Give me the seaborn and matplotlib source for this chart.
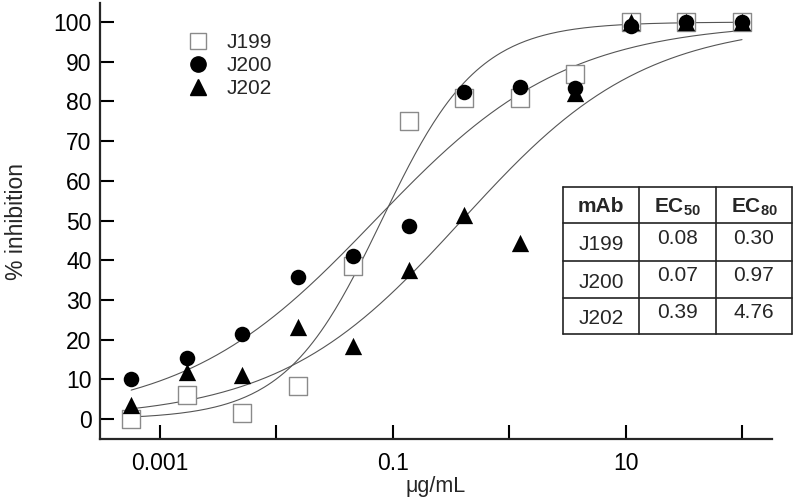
import numpy as np
import pandas as pd
import matplotlib
matplotlib.use("Agg")
import matplotlib.pyplot as plt
from matplotlib.lines import Line2D
import seaborn as sns

# ---------------- data ----------------
conc = [0.000565, 0.00169, 0.00508, 0.0152, 0.0457, 0.137, 0.412, 1.23, 3.70, 11.1, 33.3, 100]
j199 = [0, 6, 1.5, 8.3, 38.5, 75, 81, 81, 87, 100, 100, 100]
j200 = [10, 15.4, 21.4, 35.7, 41.1, 48.7, 82.4, 83.6, 83.5, 98.9, 100, 100]
j202 = [3.6, 11.8, 11.0, 23.2, 18.5, 37.6, 51.5, 44.3, 82.1, 100, 100, 100]
series_names = ["J199", "J200", "J202"]

# fitted logistic parameters (EC50 from table, Hill slope from EC50/EC80)
ec50 = [0.08, 0.07, 0.39]
ec80 = [0.30, 0.97, 4.76]
hill = [1.05, 0.527, 0.554]

table_header = ["mAb", r"$\mathbf{EC_{50}}$", r"$\mathbf{EC_{80}}$"]
table_rows = [["J199", "0.08", "0.30"], ["J200", "0.07", "0.97"], ["J202", "0.39", "4.76"]]

xticks = [0.001, 0.01, 0.1, 1, 10, 100]
xticklabels = ["0.001", "", "0.1", "", "10", ""]
yticks = list(range(0, 101, 10))

# ---------------- style ----------------
sns.set_style("ticks")
plt.rcParams["font.family"] = ["Liberation Sans", "DejaVu Sans"]
plt.rcParams["mathtext.fontset"] = "custom"
plt.rcParams["mathtext.rm"] = "Liberation Sans"
plt.rcParams["mathtext.bf"] = "Liberation Sans:bold"

W, H = 793, 500
fig = plt.figure(figsize=(W / 100, H / 100), dpi=100)
ax = fig.add_axes([100 / W, 1 - 439 / H, 672 / W, 436 / H])

df = pd.DataFrame({
    "conc": conc * 3,
    "inh": j199 + j200 + j202,
    "mAb": ["J199"] * 12 + ["J200"] * 12 + ["J202"] * 12,
})

# fitted curves
xs = np.logspace(np.log10(conc[0]), np.log10(conc[-1]), 300)
curves = []
for name, e, h in zip(series_names, ec50, hill):
    curves.append(pd.DataFrame({"conc": xs, "inh": 100 / (1 + (e / xs) ** h), "mAb": name}))
cdf = pd.concat(curves)
sns.lineplot(data=cdf, x="conc", y="inh", units="mAb", estimator=None,
             color="#555555", lw=0.8, ax=ax, legend=False)

# points
sns.scatterplot(data=df[df.mAb == "J199"], x="conc", y="inh", marker="s", s=150,
                facecolor="white", edgecolor="#8a8a8a", linewidth=1.0, ax=ax, zorder=3)
sns.scatterplot(data=df[df.mAb == "J200"], x="conc", y="inh", marker="o", s=125,
                color="black", edgecolor="black", linewidth=0, ax=ax, zorder=4)
sns.scatterplot(data=df[df.mAb == "J202"], x="conc", y="inh", marker="^", s=155,
                color="black", edgecolor="black", linewidth=0, ax=ax, zorder=5)

ax.set_xscale("log")
ax.set_xlim(0.000305, 181)
ax.set_ylim(-5, 104.8)
ax.set_xticks(xticks)
ax.set_xticklabels(xticklabels)
ax.xaxis.set_minor_locator(matplotlib.ticker.NullLocator())
ax.set_yticks(yticks)
ax.tick_params(axis="both", direction="in", length=10, width=1.5, labelsize=16.5, colors="black")
ax.tick_params(axis="y", pad=6)
ax.tick_params(axis="x", pad=9)
for s in ["top", "right"]:
    ax.spines[s].set_visible(False)
for s in ["left", "bottom"]:
    ax.spines[s].set_linewidth(1.6)
ax.set_xlabel("\u03bcg/mL", fontsize=15.5, labelpad=1)
ax.set_ylabel("% inhibition", fontsize=16.5, labelpad=18)

# legend
handles = [
    Line2D([], [], marker="s", ls="none", markersize=12, markerfacecolor="white",
           markeredgecolor="#8a8a8a", markeredgewidth=1.0),
    Line2D([], [], marker="o", ls="none", markersize=11, color="black"),
    Line2D([], [], marker="^", ls="none", markersize=12, color="black"),
]
ax.legend(handles, series_names, loc="upper left", bbox_to_anchor=(0.112, 0.955),
          frameon=False, fontsize=15, handletextpad=0.75, labelspacing=0.2,
          handlelength=1.2, borderpad=0)

# table (pixel coordinates converted to figure coords)
def fx(px):
    return px / W

def fy(py):
    return 1 - py / H

col_x = [563, 639, 716, 792]
row_y = [187, 223, 261, 298, 334]
for x in col_x:
    fig.add_artist(Line2D([fx(x), fx(x)], [fy(row_y[0]), fy(row_y[-1])], color="#222222", lw=1.2))
for y in row_y:
    fig.add_artist(Line2D([fx(col_x[0]), fx(col_x[-1])], [fy(y), fy(y)], color="#222222", lw=1.2))

col_c = [(col_x[i] + col_x[i + 1]) / 2 for i in range(3)]
for i, t in enumerate(table_header):
    fig.text(fx(col_c[i]), fy(207), t, ha="center", va="center", fontsize=15, fontweight="bold")
for r, row in enumerate(table_rows):
    ymid = (row_y[r + 1] + row_y[r + 2]) / 2
    fig.text(fx(col_c[0]), fy(ymid + 3), row[0], ha="center", va="center", fontsize=15)
    for c in (1, 2):
        fig.text(fx(col_c[c]), fy(ymid - 4), row[c], ha="center", va="center", fontsize=15)

fig.savefig("out.png", dpi=100)
